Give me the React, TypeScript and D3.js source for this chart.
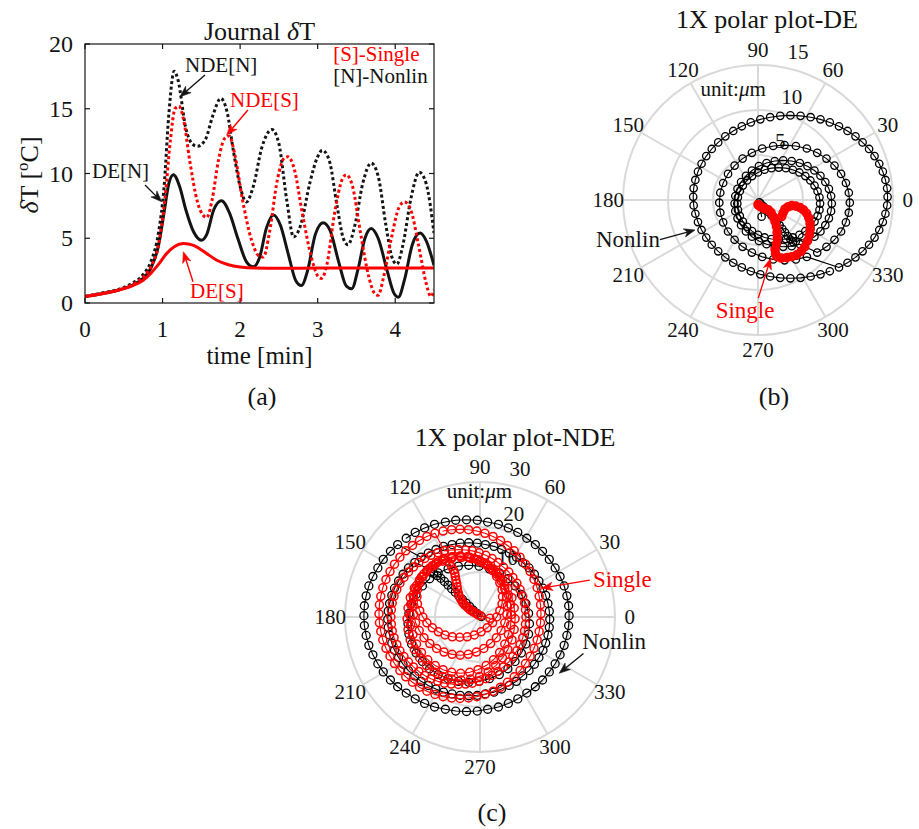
import React from "react";
import * as d3 from "d3";

type P = [number, number];

// ---------------- Panel (a): Journal δT vs time ----------------
const timeTicks = [0, 1, 2, 3, 4];
const dTTicks = [0, 5, 10, 15, 20];

// [time (min), δT (°C)]
const ndeNonlinDT: P[] = [
  [0, 0.5], [0.2, 0.75], [0.4, 1.0], [0.6, 1.5], [0.75, 2.2], [0.85, 3.2], [0.95, 5.5], [1.02, 9.0], [1.08, 14.5], [1.15, 17.9],
  [1.2, 17.2], [1.3, 13.5], [1.38, 12.3], [1.45, 12.1], [1.55, 12.6], [1.65, 14.5], [1.75, 15.8], [1.83, 14.8], [1.92, 11.5], [2.0, 9.0],
  [2.08, 7.8], [2.17, 9.0], [2.28, 12.0], [2.41, 13.4], [2.5, 12.3], [2.6, 8.0], [2.69, 5.1], [2.78, 6.0], [2.9, 9.3], [3.0, 11.3],
  [3.06, 11.8], [3.15, 11.0], [3.25, 7.5], [3.33, 5.0], [3.39, 4.5], [3.48, 6.0], [3.58, 9.2], [3.69, 10.8], [3.78, 9.8], [3.88, 6.0],
  [3.96, 3.5], [4.02, 3.0], [4.1, 4.5], [4.2, 8.0], [4.31, 10.1], [4.4, 9.2], [4.5, 5.4],
];
const ndeSingleDT: P[] = [
  [0, 0.5], [0.2, 0.7], [0.4, 0.95], [0.6, 1.4], [0.75, 2.0], [0.85, 2.8], [0.95, 4.5], [1.03, 8.0], [1.1, 12.5], [1.16, 15.0],
  [1.21, 15.2], [1.27, 14.2], [1.35, 11.0], [1.45, 7.8], [1.52, 6.8], [1.57, 6.6], [1.64, 8.0], [1.72, 11.0], [1.8, 12.7], [1.86, 12.9],
  [1.93, 11.5], [2.03, 8.0], [2.15, 4.8], [2.25, 3.6], [2.3, 3.55], [2.38, 5.5], [2.48, 9.5], [2.57, 11.2], [2.62, 11.3], [2.7, 10.3],
  [2.8, 7.0], [2.92, 3.5], [3.0, 2.1], [3.05, 1.9], [3.12, 3.0], [3.22, 7.0], [3.32, 9.6], [3.37, 9.9], [3.45, 9.0], [3.55, 5.5],
  [3.66, 2.0], [3.74, 0.7], [3.78, 0.6], [3.85, 2.0], [3.95, 5.0], [4.05, 7.4], [4.12, 7.8], [4.2, 7.2], [4.3, 4.5], [4.4, 1.5],
  [4.46, 0.5], [4.5, 1.0],
];
const deNonlinDT: P[] = [
  [0, 0.5], [0.2, 0.7], [0.4, 0.95], [0.6, 1.35], [0.75, 1.9], [0.85, 2.7], [0.95, 4.5], [1.02, 7.0], [1.08, 9.2], [1.14, 9.9],
  [1.22, 9.0], [1.3, 7.2], [1.4, 5.5], [1.5, 4.85], [1.57, 5.3], [1.66, 7.2], [1.76, 7.9], [1.86, 7.0], [1.97, 5.0], [2.08, 3.2],
  [2.17, 2.8], [2.25, 3.5], [2.34, 5.8], [2.43, 6.8], [2.52, 6.0], [2.62, 3.8], [2.72, 1.7], [2.79, 1.35], [2.87, 2.5], [2.97, 5.3],
  [3.07, 6.2], [3.16, 5.6], [3.27, 3.2], [3.37, 1.3], [3.44, 1.1], [3.52, 2.6], [3.61, 5.0], [3.69, 5.75], [3.78, 5.0], [3.9, 2.4],
  [3.98, 0.8], [4.04, 0.45], [4.12, 1.8], [4.22, 4.5], [4.32, 5.4], [4.4, 4.8], [4.5, 2.9],
];
const deSingleDT: P[] = [
  [0, 0.5], [0.2, 0.7], [0.4, 0.95], [0.6, 1.3], [0.75, 1.75], [0.85, 2.3], [0.95, 3.0], [1.05, 3.8], [1.15, 4.35], [1.27, 4.6],
  [1.4, 4.45], [1.55, 3.9], [1.7, 3.3], [1.85, 2.95], [2.0, 2.78], [2.2, 2.7], [2.5, 2.68], [3.0, 2.7], [3.5, 2.7], [4.0, 2.7], [4.5, 2.7],
];

// ---------------- Panel (b): 1X polar plot, DE (µm, [horizontal, vertical]) ----------------
const deRings = [5, 10, 15];
const deNonlinTail: P[] = [
  [0.4, -1.85], [0.15, -0.25], [0.3, -0.4], [0.6, -0.7], [0.9, -1.0], [1.2, -1.35], [1.5, -1.7], [1.8, -2.05], [2.1, -2.4], [2.4, -2.8],
  [2.7, -3.2], [3.0, -3.6], [3.3, -4.0], [3.6, -4.4], [3.9, -4.7], [4.2, -4.6],
];
const deNonlinLoop1: P[] = [
  [4.6, -3.86], [5.26, -3.46], [5.82, -2.97], [6.28, -2.4], [6.62, -1.77], [6.83, -1.1], [6.9, -0.4], [6.83, 0.3], [6.62, 0.97], [6.28, 1.6],
  [5.82, 2.17], [5.26, 2.66], [4.6, 3.06], [3.87, 3.36], [3.1, 3.54], [2.3, 3.6], [1.5, 3.54], [0.73, 3.36], [0.0, 3.06], [-0.66, 2.66],
  [-1.22, 2.17], [-1.68, 1.6], [-2.02, 0.97], [-2.23, 0.3], [-2.3, -0.4], [-2.23, -1.1], [-2.02, -1.77], [-1.68, -2.4], [-1.22, -2.97], [-0.66, -3.46],
  [0.0, -3.86], [0.73, -4.16], [1.5, -4.34], [2.3, -4.4], [3.1, -4.34], [3.87, -4.16],
];
const deNonlinLoop2: P[] = [
  [5.5, -4.56], [6.27, -4.08], [6.94, -3.49], [7.48, -2.8], [7.88, -2.04], [8.12, -1.24], [8.2, -0.4], [8.12, 0.44], [7.88, 1.24], [7.48, 2.0],
  [6.94, 2.69], [6.27, 3.28], [5.5, 3.76], [4.65, 4.11], [3.74, 4.33], [2.8, 4.4], [1.86, 4.33], [0.95, 4.11], [0.1, 3.76], [-0.67, 3.28],
  [-1.34, 2.69], [-1.88, 2.0], [-2.28, 1.24], [-2.52, 0.44], [-2.6, -0.4], [-2.52, -1.24], [-2.28, -2.04], [-1.88, -2.8], [-1.34, -3.49], [-0.67, -4.08],
  [0.1, -4.56], [0.95, -4.91], [1.86, -5.13], [2.8, -5.2], [3.74, -5.13], [4.65, -4.91],
];
const deNonlinLoop3: P[] = [
  [6.58, -5.84], [7.61, -5.2], [8.5, -4.42], [9.23, -3.5], [9.77, -2.49], [10.09, -1.41], [10.2, -0.3], [10.09, 0.81], [9.77, 1.89], [9.23, 2.9],
  [8.5, 3.82], [7.61, 4.6], [6.58, 5.24], [5.43, 5.72], [4.21, 6.0], [2.95, 6.1], [1.69, 6.0], [0.47, 5.72], [-0.68, 5.24], [-1.71, 4.6],
  [-2.6, 3.82], [-3.33, 2.9], [-3.87, 1.89], [-4.19, 0.81], [-4.3, -0.3], [-4.19, -1.41], [-3.87, -2.49], [-3.33, -3.5], [-2.6, -4.42], [-1.71, -5.2],
  [-0.68, -5.84], [0.47, -6.32], [1.69, -6.6], [2.95, -6.7], [4.21, -6.6], [5.43, -6.32],
];
const deNonlinLoop4: P[] = [
  [9.0, -7.49], [9.95, -6.97], [10.83, -6.37], [11.62, -5.7], [12.34, -4.97], [12.95, -4.18], [13.47, -3.33], [13.87, -2.45], [14.16, -1.53], [14.35, -0.6],
  [14.4, 0.35], [14.35, 1.3], [14.16, 2.23], [13.87, 3.15], [13.47, 4.03], [12.95, 4.88], [12.34, 5.67], [11.62, 6.4], [10.83, 7.07], [9.95, 7.67],
  [9.0, 8.19], [7.98, 8.62], [6.94, 8.96], [5.85, 9.2], [4.73, 9.35], [3.6, 9.4], [2.47, 9.35], [1.35, 9.2], [0.26, 8.96], [-0.8, 8.62],
  [-1.8, 8.19], [-2.75, 7.67], [-3.63, 7.07], [-4.42, 6.4], [-5.14, 5.67], [-5.75, 4.88], [-6.27, 4.03], [-6.67, 3.15], [-6.96, 2.23], [-7.15, 1.3],
  [-7.2, 0.35], [-7.15, -0.6], [-6.96, -1.53], [-6.67, -2.45], [-6.27, -3.33], [-5.75, -4.18], [-5.14, -4.97], [-4.42, -5.7], [-3.63, -6.37], [-2.75, -6.97],
  [-1.8, -7.49], [-0.8, -7.92], [0.26, -8.26], [1.35, -8.5], [2.47, -8.65], [3.6, -8.7], [4.73, -8.65], [5.85, -8.5], [6.94, -8.26], [7.98, -7.92],
];
const deSingleOrbit: P[] = [
  [0.0, -0.5], [0.1, -0.6], [0.15, -0.65], [0.3, -0.75], [0.5, -0.85], [0.8, -0.95], [1.15, -1.1], [1.45, -1.4], [1.7, -1.85], [1.9, -2.4],
  [2.05, -2.95], [2.12, -3.6], [2.15, -4.25], [2.05, -4.9], [1.9, -5.5], [1.95, -5.95], [2.1, -6.3], [2.6, -6.45], [3.2, -6.4], [3.75, -6.3],
  [4.3, -6.1], [4.8, -5.7], [5.2, -5.2], [5.5, -4.55], [5.7, -3.9], [5.8, -3.25], [5.78, -2.6], [5.65, -2.0], [5.4, -1.48], [5.05, -1.1],
  [4.67, -0.85], [4.2, -0.68], [3.74, -0.63], [3.35, -0.75], [3.0, -1.0], [2.8, -1.4], [2.63, -1.85],
];

// ---------------- Panel (c): 1X polar plot, NDE (µm) ----------------
const ndeRings = [10, 20, 30];
const ndeNonlinTail: P[] = [
  [0.3, 0.1], [-0.7, 0.8], [-1.5, 1.5], [-2.3, 2.3], [-3.1, 3.1], [-3.9, 3.9], [-4.7, 4.7], [-5.5, 5.5], [-6.3, 6.3], [-7.1, 7.1],
  [-7.9, 7.9], [-8.7, 8.6], [-9.5, 9.2], [-10.3, 9.7], [-11.0, 10.0],
];
const ndeNonlinLoop1: P[] = [
  [-11.2, 8.5], [-12.8, 6.9], [-14.2, 5.0], [-15.2, 3.0], [-15.8, 0.8], [-16.0, -1.5], [-15.8, -3.8], [-15.2, -6.0], [-14.2, -8.0], [-12.8, -9.9],
  [-11.2, -11.5], [-9.3, -12.8], [-7.1, -13.7], [-4.8, -14.3], [-2.5, -14.5], [-0.2, -14.3], [2.1, -13.7], [4.3, -12.8], [6.2, -11.5], [7.8, -9.9],
  [9.2, -8.0], [10.2, -6.0], [10.8, -3.8], [11.0, -1.5], [10.8, 0.8], [10.2, 3.0], [9.2, 5.0], [7.8, 6.9], [6.2, 8.5], [4.3, 9.8],
  [2.1, 10.7], [-0.2, 11.3], [-2.5, 11.5], [-4.8, 11.3], [-7.1, 10.7], [-9.3, 9.8],
];
const ndeNonlinLoop2: P[] = [
  [-14.5, 12.1], [-15.9, 10.9], [-17.1, 9.5], [-18.1, 8.0], [-19.0, 6.4], [-19.6, 4.8], [-20.1, 3.0], [-20.4, 1.3], [-20.5, -0.5], [-20.4, -2.3],
  [-20.1, -4.0], [-19.6, -5.8], [-19.0, -7.4], [-18.1, -9.0], [-17.1, -10.5], [-15.9, -11.9], [-14.5, -13.1], [-13.1, -14.3], [-11.5, -15.2], [-9.8, -16.0],
  [-8.1, -16.7], [-6.2, -17.1], [-4.4, -17.4], [-2.5, -17.5], [-0.6, -17.4], [1.2, -17.1], [3.1, -16.7], [4.8, -16.0], [6.5, -15.2], [8.1, -14.3],
  [9.5, -13.1], [10.9, -11.9], [12.1, -10.5], [13.1, -9.0], [14.0, -7.4], [14.6, -5.8], [15.1, -4.0], [15.4, -2.3], [15.5, -0.5], [15.4, 1.3],
  [15.1, 3.0], [14.6, 4.8], [14.0, 6.4], [13.1, 8.0], [12.1, 9.5], [10.9, 10.9], [9.5, 12.1], [8.1, 13.3], [6.5, 14.2], [4.8, 15.0],
  [3.1, 15.7], [1.2, 16.1], [-0.6, 16.4], [-2.5, 16.5], [-4.4, 16.4], [-6.2, 16.1], [-8.1, 15.7], [-9.8, 15.0], [-11.5, 14.2], [-13.1, 13.3],
];
const ndeNonlinLoop3: P[] = [
  [-18.3, 16.1], [-19.9, 14.6], [-21.5, 12.8], [-22.7, 10.9], [-23.8, 9.0], [-24.7, 6.9], [-25.3, 4.7], [-25.7, 2.5], [-25.8, 0.3], [-25.7, -1.9],
  [-25.3, -4.1], [-24.7, -6.3], [-23.8, -8.4], [-22.7, -10.4], [-21.5, -12.2], [-19.9, -14.0], [-18.3, -15.5], [-16.4, -16.9], [-14.4, -18.2], [-12.3, -19.2],
  [-10.1, -20.0], [-7.7, -20.5], [-5.4, -20.9], [-3.0, -21.0], [-0.6, -20.9], [1.7, -20.5], [4.1, -20.0], [6.3, -19.2], [8.4, -18.2], [10.4, -16.9],
  [12.3, -15.5], [13.9, -14.0], [15.4, -12.2], [16.7, -10.4], [17.8, -8.4], [18.7, -6.3], [19.3, -4.1], [19.7, -1.9], [19.8, 0.3], [19.7, 2.5],
  [19.3, 4.7], [18.7, 6.9], [17.8, 9.0], [16.7, 10.9], [15.4, 12.8], [13.9, 14.6], [12.3, 16.1], [10.4, 17.5], [8.4, 18.8], [6.3, 19.8],
  [4.1, 20.6], [1.7, 21.1], [-0.6, 21.5], [-3.0, 21.6], [-5.4, 21.5], [-7.7, 21.1], [-10.1, 20.6], [-12.3, 19.8], [-14.4, 18.8], [-16.4, 17.5],
];
const ndeSingleTail: P[] = [
  [2.2, -0.3], [0.1, 0.3], [-0.4, 0.45], [-0.9, 0.8], [-1.4, 1.1], [-1.8, 1.35], [-2.2, 1.6], [-2.6, 1.95], [-3.0, 2.35], [-3.4, 2.7],
  [-3.7, 3.0], [-4.0, 3.5], [-4.3, 4.0], [-4.6, 4.6], [-4.8, 5.3], [-5.0, 6.0], [-5.1, 6.7], [-5.2, 7.5], [-5.35, 8.2], [-5.5, 9.0],
  [-5.6, 9.7], [-5.9, 10.4], [-6.3, 11.2], [-6.8, 12.0],
];
const ndeSingleLoop1: P[] = [
  [-7.75, 13.0], [-9.25, 12.3], [-10.6, 11.4], [-11.8, 10.3], [-12.7, 9.0], [-13.4, 7.6], [-13.9, 6.1], [-14.0, 4.5], [-13.9, 2.9], [-13.4, 1.4],
  [-12.7, 0.0], [-11.8, -1.3], [-10.6, -2.4], [-9.25, -3.3], [-7.75, -4.0], [-6.15, -4.4], [-4.5, -4.5], [-2.85, -4.4], [-1.25, -4.0], [0.25, -3.3],
  [1.6, -2.4], [2.8, -1.3], [3.7, 0.0], [4.4, 1.4], [4.9, 2.9], [5.0, 4.5], [4.9, 6.1], [4.4, 7.6], [3.7, 9.0], [2.8, 10.3],
  [1.6, 11.4], [0.25, 12.3], [-1.25, 13.0], [-2.85, 13.4], [-4.5, 13.5], [-6.15, 13.4],
];
const ndeSingleLoop2: P[] = [
  [-8.0, 12.8], [-9.65, 12.0], [-11.15, 10.9], [-12.45, 9.6], [-13.5, 8.0], [-14.3, 6.3], [-14.75, 4.4], [-14.9, 2.5], [-14.75, 0.6], [-14.3, -1.3],
  [-13.5, -3.0], [-12.45, -4.6], [-11.15, -5.9], [-9.65, -7.0], [-8.0, -7.8], [-6.2, -8.3], [-4.4, -8.5], [-2.6, -8.3], [-0.8, -7.8], [0.85, -7.0],
  [2.35, -5.9], [3.65, -4.6], [4.7, -3.0], [5.5, -1.3], [5.95, 0.6], [6.1, 2.5], [5.95, 4.4], [5.5, 6.3], [4.7, 8.0], [3.65, 9.6],
  [2.35, 10.9], [0.85, 12.0], [-0.8, 12.8], [-2.6, 13.3], [-4.4, 13.5], [-6.2, 13.3],
];
const ndeSingleLoop3: P[] = [
  [-8.2, 12.7], [-9.95, 11.8], [-11.6, 10.5], [-13.0, 8.9], [-14.1, 7.0], [-14.9, 4.9], [-15.4, 2.8], [-15.6, 0.5], [-15.4, -1.8], [-14.9, -3.9],
  [-14.1, -6.0], [-13.0, -7.9], [-11.6, -9.5], [-9.95, -10.8], [-8.2, -11.7], [-6.3, -12.3], [-4.3, -12.5], [-2.3, -12.3], [-0.45, -11.7], [1.35, -10.8],
  [3.0, -9.5], [4.35, -7.9], [5.5, -6.0], [6.3, -3.9], [6.8, -1.8], [7.0, 0.5], [6.8, 2.8], [6.3, 4.9], [5.5, 7.0], [4.35, 8.9],
  [3.0, 10.5], [1.35, 11.8], [-0.45, 12.7], [-2.3, 13.3], [-4.3, 13.5], [-6.3, 13.3],
];
const ndeSingleLoop4: P[] = [
  [-8.3, 12.4], [-10.2, 11.4], [-11.9, 10.0], [-13.4, 8.3], [-14.6, 6.4], [-15.5, 4.3], [-16.0, 2.0], [-16.2, -0.4], [-16.0, -2.8], [-15.5, -5.1],
  [-14.6, -7.2], [-13.4, -9.1], [-11.9, -10.8], [-10.2, -12.2], [-8.3, -13.2], [-6.3, -13.8], [-4.2, -14.0], [-2.1, -13.8], [-0.1, -13.2], [1.8, -12.2],
  [3.5, -10.8], [5.0, -9.1], [6.2, -7.2], [7.1, -5.1], [7.6, -2.8], [7.8, -0.4], [7.6, 2.0], [7.1, 4.3], [6.2, 6.4], [5.0, 8.3],
  [3.5, 10.0], [1.8, 11.4], [-0.1, 12.4], [-2.1, 13.0], [-4.2, 13.2], [-6.3, 13.0],
];
const ndeSingleLoop5: P[] = [
  [-9.4, 14.3], [-10.9, 13.7], [-12.3, 13.0], [-13.6, 12.1], [-14.8, 11.1], [-15.9, 10.0], [-16.9, 8.8], [-17.8, 7.5], [-18.5, 6.1], [-19.1, 4.6],
  [-19.5, 3.1], [-19.7, 1.6], [-19.8, 0.0], [-19.7, -1.6], [-19.5, -3.1], [-19.1, -4.6], [-18.5, -6.1], [-17.8, -7.5], [-16.9, -8.8], [-15.9, -10.0],
  [-14.8, -11.1], [-13.6, -12.1], [-12.3, -13.0], [-10.9, -13.7], [-9.4, -14.3], [-7.9, -14.7], [-6.4, -14.9], [-4.8, -15.0], [-3.2, -14.9], [-1.7, -14.7],
  [-0.2, -14.3], [1.3, -13.7], [2.7, -13.0], [4.0, -12.1], [5.2, -11.1], [6.4, -10.0], [7.3, -8.8], [8.2, -7.5], [8.9, -6.1], [9.5, -4.6],
  [9.9, -3.1], [10.1, -1.6], [10.2, 0.0], [10.1, 1.6], [9.9, 3.1], [9.5, 4.6], [8.9, 6.1], [8.2, 7.5], [7.3, 8.8], [6.4, 10.0],
  [5.2, 11.1], [4.0, 12.1], [2.7, 13.0], [1.3, 13.7], [-0.2, 14.3], [-1.7, 14.7], [-3.2, 14.9], [-4.8, 15.0], [-6.4, 14.9], [-7.9, 14.7],
];
const ndeSingleLoop6: P[] = [
  [-10.0, 18.6], [-11.8, 17.9], [-13.45, 17.0], [-15.0, 15.9], [-16.5, 14.7], [-17.8, 13.3], [-19.0, 11.75], [-20.0, 10.1], [-20.9, 8.35], [-21.6, 6.5],
  [-22.05, 4.6], [-22.35, 2.7], [-22.45, 0.7], [-22.35, -1.3], [-22.05, -3.2], [-21.6, -5.1], [-20.9, -6.95], [-20.0, -8.7], [-19.0, -10.35], [-17.8, -11.9],
  [-16.5, -13.3], [-15.0, -14.5], [-13.45, -15.6], [-11.8, -16.5], [-10.0, -17.2], [-8.2, -17.7], [-6.3, -18.0], [-4.45, -18.1], [-2.55, -18.0], [-0.7, -17.7],
  [1.1, -17.2], [2.9, -16.5], [4.55, -15.6], [6.1, -14.5], [7.6, -13.3], [8.9, -11.9], [10.1, -10.35], [11.15, -8.7], [12.0, -6.95], [12.7, -5.1],
  [13.15, -3.2], [13.45, -1.3], [13.55, 0.7], [13.45, 2.7], [13.15, 4.6], [12.7, 6.5], [12.0, 8.35], [11.15, 10.1], [10.1, 11.75], [8.9, 13.3],
  [7.6, 14.7], [6.1, 15.9], [4.55, 17.0], [2.9, 17.9], [1.1, 18.6], [-0.7, 19.1], [-2.55, 19.4], [-4.45, 19.5], [-6.3, 19.4], [-8.2, 19.1],
];

const angleLabels = [0, 30, 60, 90, 120, 150, 180, 210, 240, 270, 300, 330];

const deNonlinOrbit: P[] = [...deNonlinTail, ...deNonlinLoop1, ...deNonlinLoop2, ...deNonlinLoop3, ...deNonlinLoop4];
const ndeNonlinOrbit: P[] = [...ndeNonlinTail, ...ndeNonlinLoop1, ...ndeNonlinLoop2, ...ndeNonlinLoop3];
const ndeSingleOrbit: P[] = [
  ...ndeSingleTail, ...ndeSingleLoop1, ...ndeSingleLoop2, ...ndeSingleLoop3, ...ndeSingleLoop4, ...ndeSingleLoop5, ...ndeSingleLoop6,
];

// ---------------- styling ----------------
const FONT = "'Liberation Serif','Times New Roman',Times,serif";
const RED = "#ff0000";
const INK = "#141414";
const GRID = "#d9d9d9";

function Arrow({ x1, y1, x2, y2, color }: { x1: number; y1: number; x2: number; y2: number; color: string }) {
  const a = Math.atan2(y2 - y1, x2 - x1);
  const L = 11;
  const H = 4.2;
  const ca = Math.cos(a), sa = Math.sin(a);
  const bx = x2 - L * ca, by = y2 - L * sa;
  const nx = x2 - 0.72 * L * ca, ny = y2 - 0.72 * L * sa;
  const pts = [
    [x2, y2],
    [bx - H * sa, by + H * ca],
    [nx, ny],
    [bx + H * sa, by - H * ca],
  ];
  return (
    <g>
      <line x1={x1} y1={y1} x2={nx} y2={ny} stroke={color} strokeWidth={1.4} />
      <polygon points={pts.map((p) => p.join(",")).join(" ")} fill={color} stroke={color} strokeWidth={0.6} />
    </g>
  );
}

function PanelA() {
  const x = d3.scaleLinear().domain([0, 4.5]).range([85, 434]);
  const y = d3.scaleLinear().domain([0, 20]).range([303, 44]);
  const line = d3
    .line<P>()
    .x((d) => x(d[0]))
    .y((d) => y(d[1]))
    .curve(d3.curveMonotoneX);
  const [x0, x1] = x.range();
  const [y0, y1] = y.range();
  const tick = 5;
  const series = [
    { d: ndeNonlinDT, c: INK, dash: "3 2.6", w: 3 },
    { d: deNonlinDT, c: INK, dash: null, w: 3 },
    { d: ndeSingleDT, c: RED, dash: "3 2.6", w: 3 },
    { d: deSingleDT, c: RED, dash: null, w: 3 },
  ];
  const ann = [
    { text: "NDE[N]", c: INK, tx: 1.29, ty: 17.84, from: [1.547, 17.6], to: [1.225, 15.93] },
    { text: "NDE[S]", c: RED, tx: 1.87, ty: 15.14, from: [2.1, 14.9], to: [1.827, 12.97] },
    { text: "DE[N]", c: INK, tx: 0.09, ty: 9.65, from: [0.774, 9.11], to: [0.989, 7.82] },
    { text: "DE[S]", c: RED, tx: 1.354, ty: 0.39, from: [1.393, 1.64], to: [1.268, 3.96] },
  ];
  return (
    <g>
      <defs>
        <clipPath id="clipA">
          <rect x={x0} y={y1} width={x1 - x0} height={y0 - y1} />
        </clipPath>
      </defs>
      <g clipPath="url(#clipA)">
        {series.map((s, i) => (
          <path
            key={i}
            d={line(s.d) || ""}
            fill="none"
            stroke={s.c}
            strokeWidth={s.w}
            strokeDasharray={s.dash || undefined}
            strokeLinejoin="round"
          />
        ))}
      </g>
      <rect x={x0} y={y1} width={x1 - x0} height={y0 - y1} fill="none" stroke={INK} strokeWidth={1.2} />
      {timeTicks.map((t) => (
        <g key={"xt" + t}>
          <line x1={x(t)} x2={x(t)} y1={y0} y2={y0 - tick} stroke={INK} strokeWidth={1.2} />
          <line x1={x(t)} x2={x(t)} y1={y1} y2={y1 + tick} stroke={INK} strokeWidth={1.2} />
          <text x={x(t)} y={329} textAnchor="middle" dominantBaseline="central" fontSize={23} fill={INK}>
            {t}
          </text>
        </g>
      ))}
      {dTTicks.map((v) => (
        <g key={"yt" + v}>
          <line x1={x0} x2={x0 + tick} y1={y(v)} y2={y(v)} stroke={INK} strokeWidth={1.2} />
          <line x1={x1} x2={x1 - tick} y1={y(v)} y2={y(v)} stroke={INK} strokeWidth={1.2} />
          <text x={x0 - 12} y={y(v)} textAnchor="end" dominantBaseline="central" fontSize={24} fill={INK}>
            {v}
          </text>
        </g>
      ))}
      <text x={(x0 + x1) / 2} y={40} textAnchor="middle" fontSize={26} fill={INK}>
        Journal <tspan fontStyle="italic">δ</tspan>T
      </text>
      <text x={(x0 + x1) / 2} y={364} textAnchor="middle" fontSize={25} fill={INK}>
        time [min]
      </text>
      <text transform="translate(38,175) rotate(-90)" textAnchor="middle" fontSize={26} fill={INK}>
        <tspan fontStyle="italic">δ</tspan>T [<tspan dy={-10} fontSize={17}>o</tspan>
        <tspan dy={10}>C]</tspan>
      </text>
      {ann.map((a, i) => (
        <g key={"ann" + i}>
          <text x={x(a.tx)} y={y(a.ty)} fontSize={21} fill={a.c}>
            {a.text}
          </text>
          <Arrow x1={x(a.from[0])} y1={y(a.from[1])} x2={x(a.to[0])} y2={y(a.to[1])} color={a.c} />
        </g>
      ))}
      <text x={x(3.2)} y={y(18.69)} fontSize={21} fill={RED}>
        [S]-Single
      </text>
      <text x={x(3.2)} y={y(16.99)} fontSize={21} fill={INK}>
        [N]-Nonlin
      </text>
    </g>
  );
}

type Series = { data: P[]; color: string; lineW: number; mr: number; mw: number };
type Note = { text: string; color: string; at: P; anchor: string; from: P; to: P };

function PolarPanel({
  cx,
  cy,
  rMax,
  rings,
  series,
  notes,
  unitAt,
  title,
  titleX,
  titleY,
}: {
  cx: number;
  cy: number;
  rMax: number;
  rings: number[];
  series: Series[];
  notes: Note[];
  unitAt: P;
  title: string;
  titleX: number;
  titleY: number;
}) {
  const R = 135;
  const r = d3.scaleLinear().domain([0, rMax]).range([0, R]);
  const pos = (d: P): P => {
    const th = Math.atan2(d[1], d[0]);
    const [px, py] = d3.pointRadial(Math.PI / 2 - th, r(Math.hypot(d[0], d[1])));
    return [cx + px, cy + py];
  };
  const step = rings[0];
  const c82 = Math.cos((82 * Math.PI) / 180);
  const s82 = Math.sin((82 * Math.PI) / 180);
  const lineGen = d3.line<P>();
  const unitPos = pos(unitAt);
  return (
    <g>
      {rings.map((v) => (
        <circle key={"ring" + v} cx={cx} cy={cy} r={r(v)} fill="none" stroke={GRID} strokeWidth={2} />
      ))}
      {angleLabels.slice(0, 6).map((deg) => {
        const [px, py] = d3.pointRadial(Math.PI / 2 - (deg * Math.PI) / 180, R);
        return <line key={"sp" + deg} x1={cx - px} y1={cy - py} x2={cx + px} y2={cy + py} stroke={GRID} strokeWidth={2} />;
      })}
      {angleLabels.map((deg) => {
        const [px, py] = d3.pointRadial(Math.PI / 2 - (deg * Math.PI) / 180, R * 1.11);
        return (
          <text key={"al" + deg} x={cx + px} y={cy + py} textAnchor="middle" dominantBaseline="central" fontSize={21} fill={INK}>
            {deg}
          </text>
        );
      })}
      {rings.map((v) => {
        const rr = r(v + step / 20);
        return (
          <text key={"rl" + v} x={cx + rr * c82 + 10.5} y={cy - rr * s82 - 5} fontSize={21} fill={INK}>
            {v}
          </text>
        );
      })}
      <text x={unitPos[0]} y={unitPos[1]} fontSize={21} fill={INK}>
        unit:<tspan fontStyle="italic">μ</tspan>m
      </text>
      {series.map((s, i) => {
        const pts = s.data.map(pos);
        return (
          <g key={"s" + i}>
            <path d={lineGen(pts) || ""} fill="none" stroke={s.color} strokeWidth={s.lineW} strokeLinejoin="round" strokeLinecap="round" />
            {pts.map((p, j) => (
              <circle key={j} cx={p[0]} cy={p[1]} r={s.mr} fill="none" stroke={s.color} strokeWidth={s.mw} />
            ))}
          </g>
        );
      })}
      {notes.map((n, i) => {
        const t = pos(n.at);
        const f = pos(n.from);
        const to = pos(n.to);
        return (
          <g key={"n" + i}>
            <text x={t[0]} y={t[1]} textAnchor={n.anchor as any} fontSize={23} fill={n.color}>
              {n.text}
            </text>
            <Arrow x1={f[0]} y1={f[1]} x2={to[0]} y2={to[1]} color={n.color} />
          </g>
        );
      })}
      <text x={titleX} y={titleY} textAnchor="middle" fontSize={26} fill={INK}>
        {title}
      </text>
    </g>
  );
}

export default function App() {
  return (
    <svg
      width={919}
      height={829}
      viewBox="0 0 919 829"
      style={{ position: "absolute", left: 0, top: 0, background: "#fff" }}
      fontFamily={FONT}
    >
      <rect x={0} y={0} width={919} height={829} fill="#fff" />
      <PanelA />
      <PolarPanel
        cx={758}
        cy={200}
        rMax={15}
        rings={deRings}
        series={[
          { data: deNonlinOrbit, color: "#000", lineW: 1.1, mr: 3.7, mw: 1.3 },
          { data: deSingleOrbit, color: RED, lineW: 5, mr: 3.6, mw: 2.4 },
        ]}
        notes={[
          { text: "Nonlin", color: INK, at: [-10.9, -5.2], anchor: "end", from: [-10.9, -4.4], to: [-7.0, -3.33] },
          { text: "Single", color: RED, at: [-1.44, -13.1], anchor: "middle", from: [0.03, -10.9], to: [1.41, -6.48] },
        ]}
        unitAt={[-6.4, 11.6]}
        title="1X polar plot-DE"
        titleX={767}
        titleY={28}
      />
      <PolarPanel
        cx={480}
        cy={617}
        rMax={30}
        rings={ndeRings}
        series={[
          { data: ndeNonlinOrbit, color: "#000", lineW: 1.1, mr: 4, mw: 1.3 },
          { data: ndeSingleOrbit, color: RED, lineW: 1.1, mr: 4, mw: 1.5 },
        ]}
        notes={[
          { text: "Single", color: RED, at: [25.1, 6.67], anchor: "start", from: [24.4, 8.2], to: [13.7, 6.4] },
          { text: "Nonlin", color: INK, at: [22.7, -7.1], anchor: "start", from: [23.0, -8.1], to: [17.6, -12.5] },
        ]}
        unitAt={[-7.4, 26.5]}
        title="1X polar plot-NDE"
        titleX={515}
        titleY={446}
      />
      <text x={262} y={405} textAnchor="middle" fontSize={26} fill={INK}>
        (a)
      </text>
      <text x={774} y={405} textAnchor="middle" fontSize={26} fill={INK}>
        (b)
      </text>
      <text x={492} y={821} textAnchor="middle" fontSize={26} fill={INK}>
        (c)
      </text>
    </svg>
  );
}
